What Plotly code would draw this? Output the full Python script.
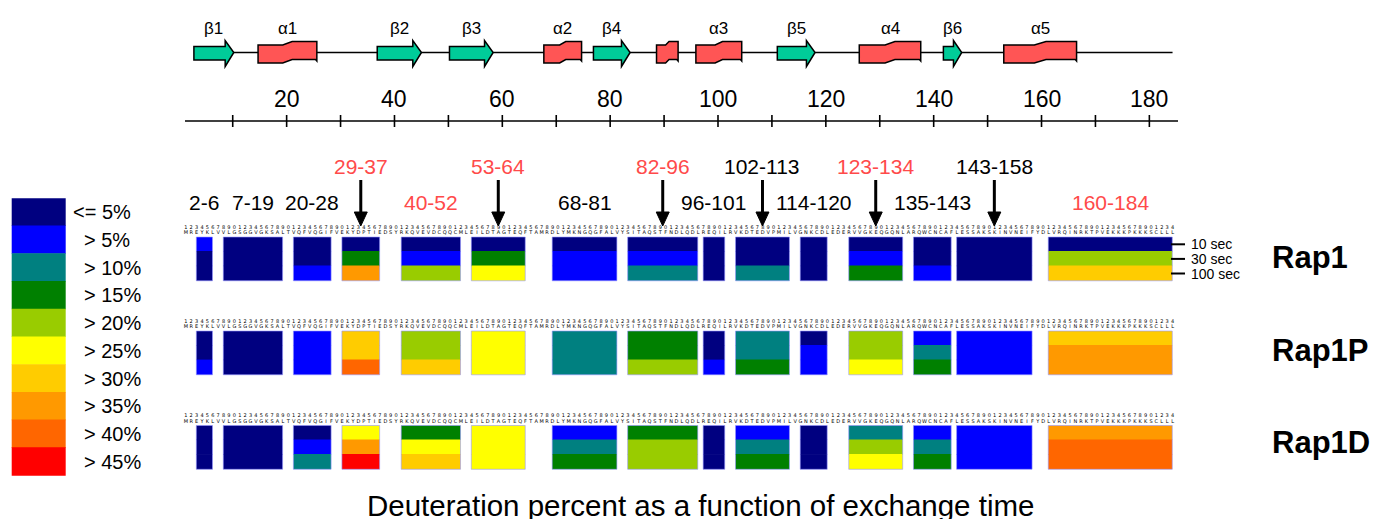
import plotly.graph_objects as go

# ---------------- data ----------------
SEQ = ("MREYKLVVLGSGGVGKSALTVQFVQGIFVEKYDPTIEDSYRKQVEVDCQQCMLEILDTAGTEQFTAMRDLYMKNGQGFALVYSITAQS"
       "TFNDLQDLREQILRVKDTEDVPMILVGNKCDLEDERVVGKEQGQNLARQWCNCAFLESSAKSKINVNEIFYDLVRQINRKTPVEKKKPKKKSCLLL")

pep_start = [2, 7, 20, 29, 40, 53, 68, 82, 96, 102, 114, 123, 135, 143, 160]
pep_end = [6, 19, 28, 37, 52, 64, 81, 96, 101, 113, 120, 134, 143, 158, 184]
pep_red = [0, 0, 0, 1, 1, 1, 0, 1, 0, 0, 0, 1, 0, 0, 1]
pep_arrow = [0, 0, 0, 1, 0, 1, 0, 1, 0, 1, 0, 1, 0, 1, 0]

proteins = ["Rap1", "Rap1P", "Rap1D"]
times = ["10 sec", "30 sec", "100 sec"]

# deuteration level index (0: <=5%, 1: >5%, ... 9: >45%) at 10 s, 30 s, 100 s
rap1 = [[1, 0, 0], [0, 0, 0], [0, 0, 1], [0, 3, 7], [0, 1, 4], [0, 3, 5], [0, 1, 1], [0, 1, 2],
        [0, 0, 0], [0, 0, 2], [0, 0, 0], [0, 1, 3], [0, 0, 1], [0, 0, 0], [0, 4, 6]]
rap1p = [[0, 0, 1], [0, 0, 0], [1, 1, 1], [6, 6, 8], [4, 4, 6], [5, 5, 5], [2, 2, 2], [3, 3, 4],
         [0, 0, 1], [2, 2, 3], [0, 1, 1], [4, 4, 5], [1, 2, 3], [1, 1, 1], [6, 7, 7]]
rap1d = [[0, 0, 0], [0, 0, 0], [0, 1, 2], [5, 7, 9], [3, 5, 6], [5, 5, 5], [1, 2, 3], [3, 4, 4],
         [0, 0, 0], [1, 2, 3], [0, 0, 0], [2, 4, 5], [1, 2, 3], [1, 1, 1], [7, 8, 8]]
levels = [rap1, rap1p, rap1d]

level_labels = ["<= 5%", "> 5%", "> 10%", "> 15%", "> 20%", "> 25%", "> 30%", "> 35%", "> 40%", "> 45%"]
level_colors = ["#000080", "#0000ff", "#008080", "#008000", "#99cc00",
                "#ffff00", "#ffcc00", "#ff9900", "#ff6600", "#ff0000"]

ss_type = ["b", "a", "b", "b", "a", "b", "a", "a", "b", "a", "b", "a"]
ss_label = ["β1", "α1", "β2", "β3", "α2", "β4", "", "α3", "β5", "α4", "β6", "α5"]
ss_start = [2.8, 14.7, 36.8, 50.2, 67.7, 76.9, 88.6, 95.9, 111.0, 126.2, 141.8, 153.0]
ss_end = [10.2, 25.6, 45.0, 58.3, 74.7, 83.7, 92.6, 104.4, 118.0, 137.6, 145.2, 166.5]

ruler_ticks = list(range(10, 190, 10))
ruler_labels = list(range(20, 190, 20))

# ---------------- layout constants ----------------
W, H = 1386, 519
PX0, PXR = 178.8, 5.392          # pixel position of residue 0, pixels per residue
FONT = "Arial, Liberation Sans, sans-serif"
RED = "#ff4a4a"


def rx(px):
    return (px - PX0) / PXR


fig = go.Figure()
shapes = []
ann = []

# ---- secondary structure ----
SS_Y = 52.5
shapes.append(dict(type="line", xref="x", yref="y", x0=ss_start[0], x1=184.3, y0=SS_Y, y1=SS_Y,
                   line=dict(color="black", width=1.6), layer="below"))
for t, s, e, lab in zip(ss_type, ss_start, ss_end, ss_label):
    if t == "b":
        hl = min(1.6, 0.45 * (e - s))
        hb = e - hl
        path = (f"M {s},46.5 L {hb},46.5 L {hb},40.5 L {e},{SS_Y} L {hb},66.5 L {hb},60 L {s},60 Z")
        col = "#00cc99"
    else:
        L = e - s
        a1, a2 = s + 0.42 * L, s + 0.58 * L
        path = (f"M {s},45 L {a1},45 L {a2},41.5 L {e},41.5 L {e},61 L {e - 0.25},59.5 "
                f"L {a2},59.5 L {a1},63 L {s},63 Z")
        col = "#ff5555"
    shapes.append(dict(type="path", xref="x", yref="y", path=path, fillcolor=col,
                       line=dict(color="black", width=1.5)))
    if lab:
        ann.append(dict(x=(s + e) / 2, y=28, xref="x", yref="y", text=lab, showarrow=False,
                        font=dict(family=FONT, size=17, color="black"), xanchor="center", yanchor="middle"))

# ---- ruler ----
RUL_Y = 121
shapes.append(dict(type="line", xref="x", yref="y", x0=rx(185), x1=rx(1178), y0=RUL_Y, y1=RUL_Y,
                   line=dict(color="black", width=1.6)))
for t in ruler_ticks:
    shapes.append(dict(type="line", xref="x", yref="y", x0=t, x1=t, y0=RUL_Y - 6, y1=RUL_Y + 6,
                       line=dict(color="black", width=1.6)))
for t in ruler_labels:
    ann.append(dict(x=t, y=99, xref="x", yref="y", text=str(t), showarrow=False,
                    font=dict(family=FONT, size=23, color="black"), xanchor="center", yanchor="middle"))

# ---- heat blocks ----
ROW_TOP = [237, 331, 425.5]
ROW_LABEL_Y = [257.5, 350.5, 442.5]
BAND = 14.6
OFF0, OFF1 = 1.25, 0.25
for r, prot in enumerate(proteins):
    top = ROW_TOP[r]
    for i, (s, e) in enumerate(zip(pep_start, pep_end)):
        x0, x1 = s + OFF0, e + OFF1
        for k in range(3):
            lv = levels[r][i][k]
            shapes.append(dict(type="rect", xref="x", yref="y", x0=x0, x1=x1,
                               y0=top + k * BAND - (0.6 if k else 0), y1=top + (k + 1) * BAND,
                               fillcolor=level_colors[lv], line=dict(width=0)))
        shapes.append(dict(type="rect", xref="x", yref="y", x0=x0, x1=x1, y0=top, y1=top + 3 * BAND,
                           fillcolor="rgba(0,0,0,0)", line=dict(color="rgba(150,150,255,0.6)", width=1)))
    # sequence text above each row
    nres = len(SEQ)
    xs = [i + 0.3 for i in range(1, nres + 1)]
    fig.add_trace(go.Scatter(x=xs, y=[top - 9.5] * nres, mode="text",
                             text=[str(i % 10) for i in range(1, nres + 1)],
                             textfont=dict(family="DejaVu Sans", size=5, color="black"),
                             hoverinfo="skip", showlegend=False))
    fig.add_trace(go.Scatter(x=xs, y=[top - 4.2] * nres, mode="text", text=list(SEQ),
                             textfont=dict(family="DejaVu Sans", size=5, color="black"),
                             hoverinfo="skip", showlegend=False))
    ann.append(dict(x=rx(1270), y=ROW_LABEL_Y[r], xref="x", yref="y", text=f"<b>{prot}</b>",
                    showarrow=False, font=dict(family=FONT, size=31, color="black"),
                    xanchor="left", yanchor="middle"))

# time labels (Rap1 row)
for k, tl in enumerate(times):
    yc = ROW_TOP[0] + (k + 0.5) * BAND
    shapes.append(dict(type="line", xref="x", yref="y", x0=rx(1171), x1=rx(1185), y0=yc, y1=yc,
                       line=dict(color="black", width=2)))
    ann.append(dict(x=rx(1189), y=yc, xref="x", yref="y", text=tl, showarrow=False,
                    font=dict(family=FONT, size=14, color="black"), xanchor="left", yanchor="middle"))

# ---- peptide labels and arrows ----
for s, e, red, arr in zip(pep_start, pep_end, pep_red, pep_arrow):
    xc = (s + OFF0 + e + OFF1) / 2
    yl = 166 if arr else 202
    ann.append(dict(x=xc, y=yl, xref="x", yref="y", text=f"{s}-{e}", showarrow=False,
                    font=dict(family=FONT, size=21, color=RED if red else "black"),
                    xanchor="center", yanchor="middle"))
    if arr:
        shapes.append(dict(type="line", xref="x", yref="y", x0=xc, x1=xc, y0=180, y1=214,
                           line=dict(color="black", width=3)))
        hw = 6.5 / PXR
        shapes.append(dict(type="path", xref="x", yref="y",
                           path=f"M {xc - hw},212 L {xc + hw},212 L {xc},226 Z",
                           fillcolor="black", line=dict(color="black", width=1)))

# ---- colour legend ----
LEG_TOP, LEG_H = 198.3, 27.74
for j, (lab, col) in enumerate(zip(level_labels, level_colors)):
    y0 = LEG_TOP + j * LEG_H
    shapes.append(dict(type="rect", xref="x", yref="y", x0=rx(11.7), x1=rx(65.7),
                       y0=y0 - (0.6 if j else 0), y1=y0 + LEG_H,
                       fillcolor=col, line=dict(width=0)))
    ann.append(dict(x=rx(70.5 if j == 0 else 82), y=y0 + LEG_H / 2, xref="x", yref="y", text=lab,
                    showarrow=False, font=dict(family=FONT, size=20, color="black"),
                    xanchor="left", yanchor="middle"))

# ---- caption ----
ann.append(dict(x=rx(700), y=505, xref="x", yref="y",
                text="Deuteration percent as a function of exchange time", showarrow=False,
                font=dict(family=FONT, size=29.5, color="black"), xanchor="center", yanchor="middle"))

fig.update_layout(
    width=W, height=H, margin=dict(l=0, r=0, t=0, b=0),
    paper_bgcolor="white", plot_bgcolor="white",
    xaxis=dict(range=[rx(0), rx(W)], visible=False, fixedrange=True),
    yaxis=dict(range=[H, 0], visible=False, fixedrange=True),
    shapes=shapes, annotations=ann, showlegend=False,
)

fig.write_html("out.html", config={"displayModeBar": False},
               post_script="document.body.style.margin='0';document.body.style.overflow='hidden';")
